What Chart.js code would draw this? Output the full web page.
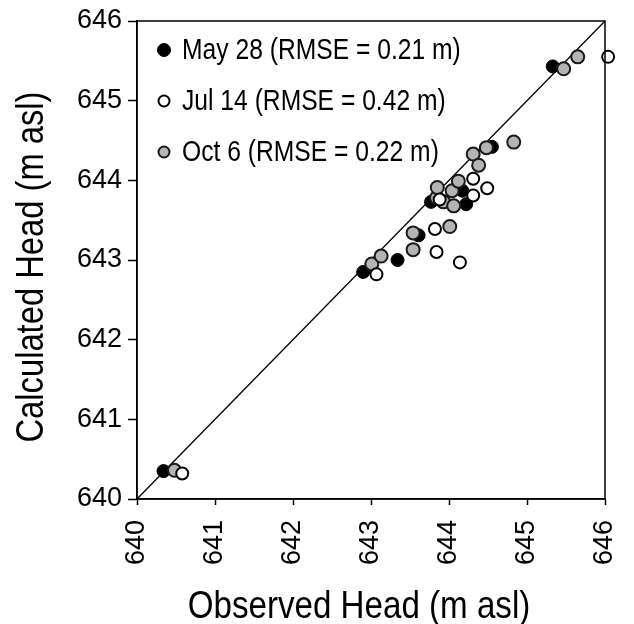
<!DOCTYPE html>
<html>
<head>
<meta charset="utf-8">
<script src="https://cdn.jsdelivr.net/npm/chart.js@4/dist/chart.umd.min.js"></script>
<style>
  html, body { margin: 0; padding: 0; background: #fff; }
  #wrap { width: 634px; height: 624px; }
</style>
</head>
<body>
<div id="wrap"><canvas id="chartcanvas" width="634" height="624"></canvas></div>
<script>
const canvas = document.getElementById('chartcanvas');
const ctx = canvas.getContext('2d');

const regular = '"Liberation Sans", Arial, sans-serif';
const squeeze = 0.85; // the figure uses a condensed face; squeeze Liberation Sans to match

// observed (x) and calculated (y) heads, m asl
const mayObs  = [640.34, 642.90, 643.34, 643.61, 643.77, 644.17, 644.22, 644.55, 645.33];
const mayCalc = [640.35, 642.85, 643.00, 643.31, 643.73, 643.87, 643.70, 644.42, 645.43];

const julObs  = [640.58, 643.07, 643.84, 644.14, 643.82, 643.88, 644.31, 644.49, 644.31, 646.04];
const julCalc = [640.32, 642.82, 643.10, 642.97, 643.39, 643.76, 643.81, 643.90, 644.02, 645.55];

const octObs  = [640.48, 643.01, 643.13, 643.54, 643.54, 644.01, 643.84, 643.85, 643.93,
                 644.06, 644.04, 644.12, 644.31, 644.38, 644.48, 644.83, 645.47, 645.65];
const octCalc = [640.36, 642.95, 643.05, 643.13, 643.34, 643.42, 643.78, 643.91, 643.73,
                 643.68, 643.87, 643.99, 644.33, 644.19, 644.41, 644.48, 645.40, 645.55];

const oneToOne = [640, 646];

const legendLabels = ['May 28 (RMSE = 0.21 m)', 'Jul 14 (RMSE = 0.42 m)', 'Oct 6 (RMSE = 0.22 m)'];
const xTitle = 'Observed Head (m asl)';
const yTitle = 'Calculated Head (m asl)';

function setData(x, y){
  let data = [];
  for (var i = 0; i < x.length; i++) {
    data.push({x: x[i], y: y[i]});
  };
  return data;
}

const styles = [
  {bg: '#000000', border: '#000000', bw: 1, r: 6.5},
  {bg: '#ffffff', border: '#000000', bw: 2, r: 6},
  {bg: '#b4b4b4', border: '#1a1a1a', bw: 2, r: 6.5},
];

// frame, in-plot legend and the two axis titles
const boxLegend = {
  id: 'boxLegend',
  afterDraw(chart) {
    const c = chart.ctx;
    const a = chart.chartArea;
    c.save();
    c.strokeStyle = '#000';
    c.lineWidth = 1.5;
    c.strokeRect(a.left, a.top, a.right - a.left, a.bottom - a.top);

    // legend
    c.textBaseline = 'middle';
    const rows = [29, 80, 131];
    for (let i = 0; i < legendLabels.length; i++) {
      const y = a.top + rows[i];
      const s = styles[i];
      c.beginPath();
      c.arc(a.left + 27, y, i == 0 ? 6.5 : 5.5, 0, Math.PI * 2);
      c.fillStyle = s.bg;
      c.fill();
      c.lineWidth = s.bw;
      c.strokeStyle = s.border;
      c.stroke();
      c.save();
      c.translate(a.left + 45, y + 1);
      c.scale(squeeze, 1);
      c.font = '29px ' + regular;
      c.fillStyle = '#000';
      c.fillText(legendLabels[i], 0, 0);
      c.restore();
    }

    // x title
    c.save();
    c.translate((a.left + a.right) / 2 - 12, 618);
    c.scale(squeeze, 1);
    c.font = '39px ' + regular;
    c.textAlign = 'center';
    c.textBaseline = 'alphabetic';
    c.fillStyle = '#000';
    c.fillText(xTitle, 0, 0);
    c.restore();

    // y title
    c.save();
    c.translate(43, (a.top + a.bottom) / 2 + 7);
    c.rotate(-Math.PI / 2);
    c.scale(squeeze, 1);
    c.font = '38.5px ' + regular;
    c.textAlign = 'center';
    c.textBaseline = 'alphabetic';
    c.fillStyle = '#000';
    c.fillText(yTitle, 0, 0);
    c.restore();

    c.restore();
  }
};

const scatterOptions = {
  responsive: false,
  animation: { duration: 0 },
  layout: { padding: { top: 21, right: 29, left: 0, bottom: 0 } },
  scales: {
    x: {
      type: 'linear',
      min: 640,
      max: 646,
      afterFit(scale) {
        scale.height = 125;
        scale.paddingLeft = 0;
        scale.paddingRight = 0;
      },
      grid: { drawOnChartArea: false, color: '#000', tickLength: 6, tickWidth: 1.5 },
      border: { color: '#000', width: 1.5 },
      ticks: {
        stepSize: 1,
        minRotation: 90,
        maxRotation: 90,
        padding: 15,
        color: '#000',
        font: { family: regular, size: 27 },
      },
    },
    y: {
      type: 'linear',
      min: 640,
      max: 646,
      afterFit(scale) {
        scale.width = 137;
        scale.paddingTop = 0;
        scale.paddingBottom = 0;
      },
      grid: { drawOnChartArea: false, color: '#000', tickLength: 9, tickWidth: 1.5 },
      border: { color: '#000', width: 1.5 },
      ticks: {
        stepSize: 1,
        padding: 6,
        color: '#000',
        font: { family: regular, size: 27 },
      },
    }
  },
  plugins: {
    legend: { display: false },
    tooltip: { enabled: false }
  }
};

function pointSet(label, x, y, s, order) {
  return {
    label: label,
    data: setData(x, y),
    showLine: false,
    pointRadius: s.r,
    pointBackgroundColor: s.bg,
    pointBorderColor: s.border,
    pointBorderWidth: s.bw,
    clip: false,
    order: order,
  };
}

const scatterConfig = {
  type: 'scatter',
  data: {
    datasets: [
      {
        label: '1:1',
        data: setData(oneToOne, oneToOne),
        showLine: true,
        borderColor: '#000',
        borderWidth: 1.3,
        pointRadius: 0,
        order: 4,
      },
      pointSet(legendLabels[0], mayObs, mayCalc, styles[0], 3),
      pointSet(legendLabels[2], octObs, octCalc, styles[2], 2),
      pointSet(legendLabels[1], julObs, julCalc, styles[1], 1),
    ]
  },
  options: scatterOptions,
  plugins: [boxLegend]
};

const scatterChart = new Chart(ctx, scatterConfig);
</script>
</body>
</html>
